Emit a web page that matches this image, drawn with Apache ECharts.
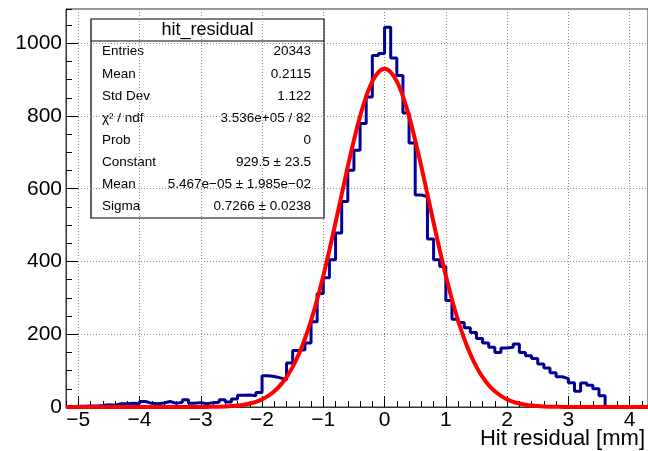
<!DOCTYPE html>
<html>
<head>
<meta charset="utf-8">
<script src="https://cdn.jsdelivr.net/npm/echarts@6/dist/echarts.min.js"></script>
<style>
  html, body { margin: 0; padding: 0; background: #fff; }
  #hist { width: 648px; height: 451px; }
</style>
</head>
<body>
<div id="hist"></div>
<script>
// hit_residual histogram, 0.1 mm bins starting at -5.2 mm
var binStart = -5.2;
var binWidth = 0.1;
var hitCounts = [
    1, 2, 2, 3, 3, 4, 6, 5, 9, 9,            // -5.2 .. -4.3
    10, 9, 15, 10, 9, 11, 15, 10, 13, 20,    // -4.2 .. -3.3
    10, 12, 9, 12, 13, 20, 14, 22, 32, 33,   // -3.2 .. -2.3
    31, 40, 86, 84, 80, 75, 121, 155, 157, 176, // -2.2 .. -1.3
    234, 312, 355, 405, 478, 565, 651, 706, 779, 852, // -1.2 .. -0.3
    966, 972, 1044, 959, 911, 808, 726, 583, 578, 462, // -0.2 .. 0.7
    405, 386, 293, 241, 232, 218, 205, 188, 176, 164,  // 0.8 .. 1.7
    150, 162, 164, 173, 150, 141, 133, 118, 107, 94,   // 1.8 .. 2.7
    83, 78, 67, 43, 66, 60, 50, 31, 0, 0,              // 2.8 .. 3.7
    0, 0, 0, 0, 0                                      // 3.8 .. 4.2
];

// gaus fit, sampled
var fitX = [
    -5.2, -4.5, -4.0, -3.5,
    -3.0, -2.9, -2.8, -2.7, -2.6, -2.5, -2.4, -2.3, -2.2, -2.1,
    -2.0, -1.9, -1.8, -1.7, -1.6, -1.5, -1.4, -1.3, -1.2, -1.1,
    -1.0, -0.9, -0.8, -0.7, -0.6, -0.5, -0.4, -0.3, -0.2, -0.1,
    0.0, 0.1, 0.2, 0.3, 0.4, 0.5, 0.6, 0.7, 0.8, 0.9,
    1.0, 1.1, 1.2, 1.3, 1.4, 1.5, 1.6, 1.7, 1.8, 1.9,
    2.0, 2.1, 2.2, 2.3, 2.4, 2.5, 2.6, 2.7, 2.8, 2.9, 3.0,
    3.5, 4.0, 4.3
];
var fitY = [
    0, 0, 0, 0,
    0.18, 0.32, 0.55, 0.93, 1.5, 2.5, 4.0, 6.2, 9.5, 14.3,
    21.0, 30.4, 43.2, 60.2, 82.3, 110.4, 145.3, 187.6, 237.7, 295.5,
    360.6, 431.6, 507.0, 584.4, 661.0, 733.5, 798.8, 853.6, 894.9, 920.7,
    929.5, 920.7, 894.9, 853.6, 798.8, 733.5, 661.0, 584.4, 507.0, 431.6,
    360.6, 295.5, 237.7, 187.6, 145.3, 110.4, 82.3, 60.2, 43.2, 30.4,
    21.0, 14.3, 9.5, 6.2, 4.0, 2.5, 1.5, 0.93, 0.55, 0.32, 0.18,
    0, 0, 0
];

var xMajorTicks = [-5, -4, -3, -2, -1, 0, 1, 2, 3, 4];
var yMajorTicks = [0, 200, 400, 600, 800, 1000];

var statTitle = 'hit_residual';
var statLabels = ['Entries', 'Mean', 'Std Dev', 'χ² / ndf', 'Prob', 'Constant', 'Mean', 'Sigma'];
var statValues = ['20343', '0.2115', '1.122', '3.536e+05 / 82', '0',
    '929.5 ± 23.5', '5.467e−05 ± 1.985e−02', '0.7266 ± 0.0238'];

var xMin = -5.2, xMax = 4.3, yMax = 1094;
var font = '"Liberation Sans", Arial, Helvetica, sans-serif';

var chart = echarts.init(document.getElementById('hist'));

// step points at bin edges, last bin closed at its upper edge
var histData = hitCounts.map(function (c, i) {
    return [+(binStart + i * binWidth).toFixed(1), c];
});
histData.push([+(binStart + hitCounts.length * binWidth).toFixed(1), hitCounts[hitCounts.length - 1]]);

var fitData = fitX.map(function (x, i) { return [x, fitY[i]]; });

function minusLabel(v) {
    return v < 0 ? '\u2212' + Math.abs(v) : String(v);
}

var statChildren = [
    { type: 'rect', shape: { x: 0, y: 0, width: 233, height: 199 },
      style: { fill: '#fff', stroke: '#000', lineWidth: 1.2 } },
    { type: 'line', shape: { x1: 0, y1: 22, x2: 233, y2: 22 },
      style: { stroke: '#000', lineWidth: 1.2 } },
    { type: 'text', x: 116.5, y: 11,
      style: { text: statTitle, fontSize: 18, fontFamily: font, fill: '#000',
               align: 'center', verticalAlign: 'middle' } }
];
statLabels.forEach(function (lab, i) {
    var yy = 32.7 + i * 22.1;
    statChildren.push({ type: 'text', x: 11, y: yy,
        style: { text: lab, fontSize: 13.5, fontFamily: font, fill: '#000',
                 align: 'left', verticalAlign: 'middle' } });
    statChildren.push({ type: 'text', x: 220, y: yy,
        style: { text: statValues[i], fontSize: 13.5, fontFamily: font, fill: '#000',
                 align: 'right', verticalAlign: 'middle' } });
});

var option = {
    backgroundColor: '#ffffff',
    animation: false,
    title: {
        text: 'Hit residual [mm]',
        right: 3,
        top: 428,
        padding: 0,
        textStyle: { fontFamily: font, fontSize: 22, fontWeight: 'normal', color: '#000' }
    },
    grid: {
        left: 66,
        top: 9,
        width: 585,
        height: 398,
        show: true,
        borderColor: '#333',
        borderWidth: 1,
        backgroundColor: 'transparent'
    },
    xAxis: [{
            // minor ticks every 0.2
            type: 'value',
            position: 'bottom',
            min: xMin,
            max: xMax,
            interval: 0.2,
            axisLine: { show: true, onZero: false, lineStyle: { color: '#333', width: 1 } },
            axisTick: { show: true, inside: true, length: 6, lineStyle: { color: '#000' } },
            axisLabel: { show: false },
            splitLine: { show: false }
        },
        {
            type: 'value',
            position: 'bottom',
            min: xMin,
            max: xMax,
            axisLine: { show: false, onZero: false },
            axisTick: { show: true, inside: true, length: 11, customValues: xMajorTicks,
                        lineStyle: { color: '#000' } },
            axisLabel: { show: true, customValues: xMajorTicks, margin: 3,
                         fontFamily: font, fontSize: 21, color: '#000',
                         formatter: minusLabel },
            splitLine: { show: true, lineStyle: { color: '#8c8c8c', width: 1, type: [1, 2] } }
        }
    ],
    yAxis: [{
            // minor ticks every 50
            type: 'value',
            position: 'left',
            min: 0,
            max: yMax,
            interval: 50,
            axisLine: { show: true, onZero: false, lineStyle: { color: '#333', width: 1 } },
            axisTick: { show: true, inside: true, length: 6, lineStyle: { color: '#000' } },
            axisLabel: { show: false },
            splitLine: { show: false }
        },
        {
            type: 'value',
            position: 'left',
            min: 0,
            max: yMax,
            axisLine: { show: false, onZero: false },
            axisTick: { show: true, inside: true, length: 12, customValues: yMajorTicks,
                        lineStyle: { color: '#000' } },
            axisLabel: { show: true, customValues: yMajorTicks, margin: 4,
                         fontFamily: font, fontSize: 21, color: '#000',
                         formatter: function (v) { return String(v); } },
            splitLine: { show: true, lineStyle: { color: '#8c8c8c', width: 1, type: [1, 2] } }
        }
    ],
    series: [{
            name: 'hit_residual',
            type: 'line',
            xAxisIndex: 1,
            yAxisIndex: 1,
            step: 'end',
            symbol: 'none',
            data: histData,
            lineStyle: { color: '#000099', width: 3 },
            z: 3
        },
        {
            name: 'gaus',
            type: 'line',
            xAxisIndex: 1,
            yAxisIndex: 1,
            smooth: 0.3,
            symbol: 'none',
            clip: false,
            data: fitData,
            lineStyle: { color: '#ff0000', width: 4 },
            z: 4
        }
    ],
    graphic: {
        elements: [{
            type: 'group',
            x: 91,
            y: 19,
            z: 100,
            children: statChildren
        }]
    }
};

chart.setOption(option);
</script>
</body>
</html>
